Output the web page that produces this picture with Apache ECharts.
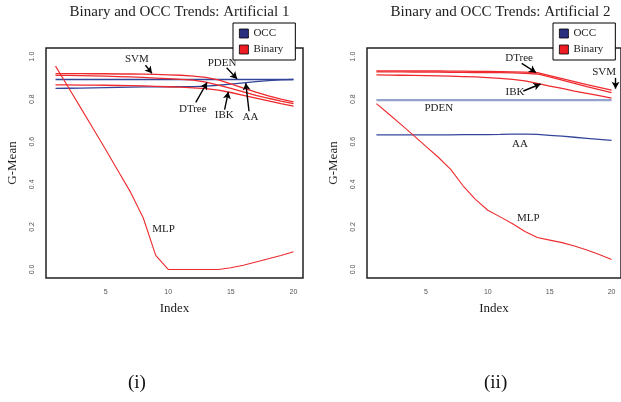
<!DOCTYPE html>
<html>
<head>
<meta charset="utf-8">
<script src="https://cdn.jsdelivr.net/npm/echarts@6/dist/echarts.min.js"></script>
<style>
html,body{margin:0;padding:0;background:#fff;}
#c{width:621px;height:402px;}
</style>
</head>
<body>
<div id="c"></div>
<script>
// ---------- data ----------
const indexVals = [1,2,3,4,5,6,7,8,9,10,11,12,13,14,15,16,17,18,19,20];
const xTicks = [5,10,15,20];
const yTicks = [0,0.2,0.4,0.6,0.8,1.0];
const legendNames = ['OCC','Binary'];
const titles = ['Binary and OCC Trends: Artificial 1','Binary and OCC Trends: Artificial 2'];
const panelTags = ['(i)','(ii)'];

// Panel 1 (Artificial 1)
const a1_SVM   = [0.920,0.920,0.920,0.919,0.919,0.918,0.918,0.917,0.916,0.914,0.912,0.908,0.902,0.890,0.872,0.852,0.833,0.815,0.800,0.787];
const a1_DTree = [0.911,0.911,0.910,0.909,0.908,0.906,0.904,0.902,0.899,0.896,0.893,0.889,0.880,0.866,0.850,0.834,0.818,0.804,0.791,0.779];
const a1_IBK   = [0.867,0.867,0.866,0.866,0.865,0.864,0.863,0.862,0.860,0.858,0.856,0.853,0.849,0.842,0.831,0.818,0.805,0.792,0.779,0.767];
const a1_MLP   = [0.955,0.858,0.760,0.662,0.563,0.462,0.362,0.243,0.066,0.000,0.000,0.000,0.000,0.000,0.008,0.020,0.035,0.050,0.066,0.083];
const a1_PDEN  = [0.892,0.892,0.892,0.892,0.892,0.892,0.892,0.892,0.892,0.892,0.892,0.892,0.892,0.892,0.892,0.892,0.892,0.892,0.892,0.892];
const a1_AA    = [0.850,0.851,0.852,0.853,0.854,0.855,0.856,0.857,0.857,0.858,0.858,0.859,0.861,0.865,0.870,0.876,0.882,0.887,0.890,0.892];

// Panel 2 (Artificial 2)
const a2_SVM   = [0.933,0.933,0.933,0.932,0.932,0.932,0.931,0.931,0.930,0.930,0.929,0.928,0.927,0.924,0.910,0.896,0.882,0.868,0.855,0.842];
const a2_DTree = [0.928,0.928,0.928,0.927,0.927,0.927,0.926,0.926,0.925,0.925,0.924,0.923,0.921,0.918,0.904,0.889,0.874,0.859,0.845,0.831];
const a2_IBK   = [0.914,0.913,0.912,0.911,0.910,0.909,0.908,0.906,0.904,0.901,0.897,0.893,0.886,0.874,0.861,0.850,0.838,0.827,0.816,0.805];
const a2_MLP   = [0.779,0.730,0.680,0.630,0.578,0.527,0.470,0.393,0.329,0.278,0.247,0.215,0.178,0.150,0.138,0.126,0.110,0.091,0.070,0.047];
const a2_PDEN  = [0.795,0.795,0.795,0.795,0.795,0.795,0.795,0.795,0.795,0.795,0.795,0.795,0.795,0.795,0.795,0.795,0.795,0.795,0.795,0.795];
const a2_AA    = [0.632,0.632,0.632,0.632,0.632,0.632,0.632,0.633,0.633,0.633,0.634,0.636,0.636,0.634,0.630,0.626,0.621,0.616,0.611,0.606];

// ---------- annotation placement (data coordinates) ----------
const notes1 = {
  SVM:   {label:[7.5,0.986],  arrow:[[8.18,0.959],[8.7,0.921]]},
  PDEN:  {label:[14.3,0.967], arrow:[[14.66,0.947],[15.5,0.895]]},
  DTree: {label:[11.96,0.754],arrow:[[12.2,0.785],[13.1,0.878]]},
  IBK:   {label:[14.47,0.723],arrow:[[14.5,0.751],[14.8,0.834]]},
  AA:    {label:[16.56,0.715],arrow:[[16.45,0.743],[16.19,0.875]]},
  MLP:   {label:[9.63,0.188]}
};
const notes2 = {
  DTree: {label:[12.53,0.994],arrow:[[12.74,0.968],[13.89,0.925]]},
  SVM:   {label:[19.4,0.927], arrow:[[20.32,0.900],[20.32,0.849]]},
  IBK:   {label:[12.2,0.832], arrow:[[12.87,0.838],[14.26,0.871]]},
  PDEN:  {label:[6.04,0.759]},
  AA:    {label:[12.6,0.587]},
  MLP:   {label:[13.27,0.239]}
};

// ---------- styles ----------
const RED = '#ee2a2e';
const BLUE = '#35469a';
const SERIF = '"Liberation Serif", "DejaVu Serif", serif';
const SANS = '"Liberation Sans", "DejaVu Sans", sans-serif';

function pairs(vals){ return indexVals.map((x,i)=>[x, vals[i]]); }

function makeSeries(panel, key, vals, group, note, extraLine){
  const color = group === 'OCC' ? BLUE : RED;
  const s = {
    type:'line', name:group, xAxisIndex:panel, yAxisIndex:panel,
    data: pairs(vals), showSymbol:false, symbol:'none', silent:true,
    lineStyle: Object.assign({color:color, width:1.3}, extraLine||{}),
    itemStyle:{color: group === 'OCC' ? '#2b2f80' : '#ee1d24'},
    emphasis:{disabled:true}, z:3
  };
  if (note) {
    s.markPoint = {
      symbol:'circle', symbolSize:0, silent:true,
      label:{show:true, position:'inside', formatter:'{b}', color:'#222', fontFamily:SERIF, fontSize:11},
      data:[{name:key, coord:note.label}]
    };
    if (note.arrow) {
      s.markLine = {
        silent:true, symbol:['none','arrow'], symbolSize:[6,7],
        itemStyle:{color:'#000', opacity:1},
        lineStyle:{color:'#000', width:1.4, type:'solid', opacity:1},
        label:{show:false}, emphasis:{disabled:true},
        data:[[{coord:note.arrow[0]},{coord:note.arrow[1]}]]
      };
    }
  }
  return s;
}

const grids = [
  {left:46, top:48, width:257, height:230},
  {left:367, top:48, width:257, height:230}
];
const centers = [46+257/2, 367+257/2];

const chart = echarts.init(document.getElementById('c'), null, {renderer:'canvas'});

const xAxis = [0,1].map(i=>({
  type:'value', gridIndex:i, min:0.24, max:20.76,
  name:'Index', nameLocation:'middle', nameGap:24,
  nameTextStyle:{fontFamily:SERIF, fontSize:13, color:'#222'},
  axisLine:{show:false}, axisTick:{show:false}, splitLine:{show:false},
  axisLabel:{customValues:xTicks, fontFamily:SANS, fontSize:7, color:'#555', margin:11}
}));
const yAxis = [0,1].map(i=>({
  type:'value', gridIndex:i, min:-0.04, max:1.04,
  name:'G-Mean', nameLocation:'middle', nameGap:27, nameRotate:90,
  nameTextStyle:{fontFamily:SERIF, fontSize:13, color:'#222'},
  axisLine:{show:false}, axisTick:{show:false}, splitLine:{show:false},
  axisLabel:{customValues:yTicks, rotate:90, fontFamily:SANS, fontSize:7, color:'#555', margin:10,
    formatter:v=>v.toFixed(1)}
}));

const series = [
  makeSeries(0,'PDEN',a1_PDEN,'OCC',notes1.PDEN),
  makeSeries(0,'AA',a1_AA,'OCC',notes1.AA),
  makeSeries(0,'SVM',a1_SVM,'Binary',notes1.SVM),
  makeSeries(0,'DTree',a1_DTree,'Binary',notes1.DTree),
  makeSeries(0,'IBK',a1_IBK,'Binary',notes1.IBK),
  makeSeries(0,'MLP',a1_MLP,'Binary',notes1.MLP,{width:1.1}),
  makeSeries(1,'PDEN',a2_PDEN,'OCC',notes2.PDEN,{color:'#97a3cf', width:2.2}),
  makeSeries(1,'AA',a2_AA,'OCC',notes2.AA),
  makeSeries(1,'SVM',a2_SVM,'Binary',notes2.SVM),
  makeSeries(1,'DTree',a2_DTree,'Binary',notes2.DTree),
  makeSeries(1,'IBK',a2_IBK,'Binary',notes2.IBK),
  makeSeries(1,'MLP',a2_MLP,'Binary',notes2.MLP,{width:1.1})
];

const legends = [233, 553].map(l=>({
  left:l, top:23, orient:'vertical', icon:'rect', itemWidth:9, itemHeight:9, itemGap:5,
  padding:[5,12,5,6], backgroundColor:'#fff', borderColor:'#000', borderWidth:1,
  selectedMode:false, data:legendNames,
  itemStyle:{borderColor:'#000', borderWidth:0.8},
  textStyle:{fontFamily:SERIF, fontSize:11, color:'#222'}, z:10
}));

chart.setOption({
  animation:false,
  backgroundColor:'#fff',
  title: titles.map((t,i)=>({
    text:t, left:centers[i], top:0, textAlign:'center',
    textStyle:{fontFamily:SERIF, fontSize:15, fontWeight:'normal', color:'#222'}
  })),
  legend: legends,
  grid: grids.map(g=>Object.assign({show:true, borderColor:'#222', borderWidth:1.5, backgroundColor:'transparent'}, g)),
  xAxis: xAxis,
  yAxis: yAxis,
  series: series,
  graphic: panelTags.map((t,i)=>({
    type:'text', left: i===0 ? 128 : 484, top:374,
    style:{text:t, fontFamily:SERIF, fontSize:19, fill:'#111'}
  }))
});
</script>
</body>
</html>
